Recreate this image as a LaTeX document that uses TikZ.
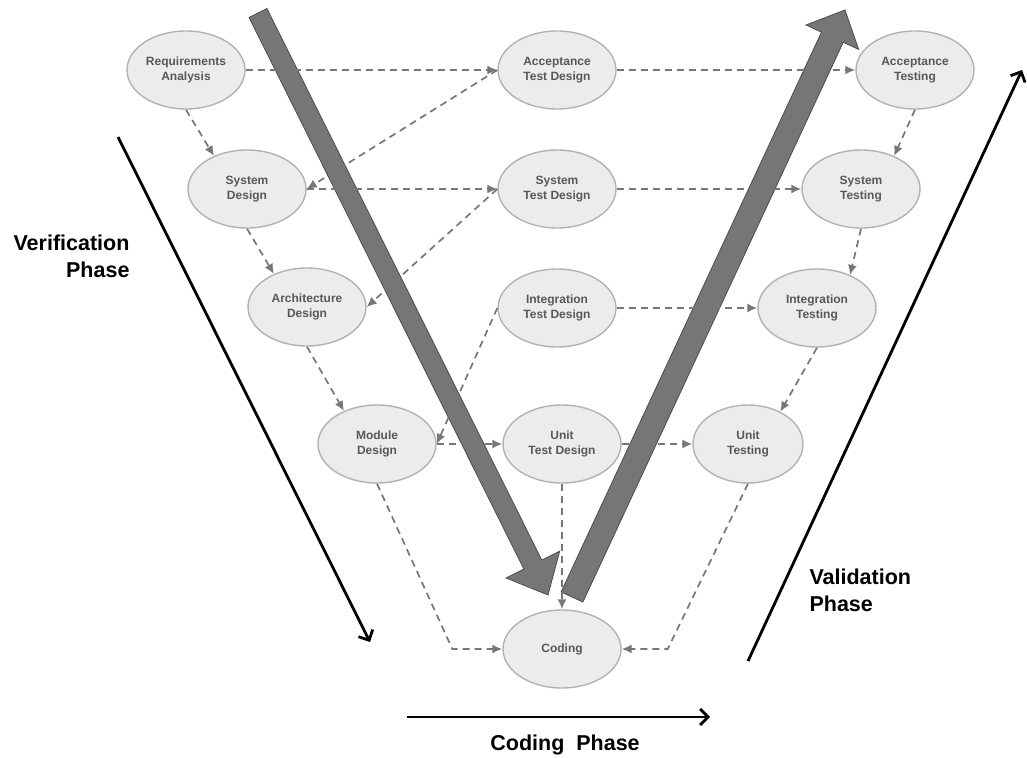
\documentclass[tikz,border=0pt]{standalone}
\usepackage{fontspec}
\setmainfont{Liberation Sans}
\usetikzlibrary{shapes.geometric,arrows.meta,calc}
\definecolor{ellfill}{HTML}{ECECEC}
\definecolor{ellborder}{HTML}{B2B2B2}
\definecolor{ndtext}{HTML}{585858}
\definecolor{linkgray}{HTML}{777777}
\definecolor{bigfill}{HTML}{767676}
\definecolor{bigdraw}{HTML}{4C4C4C}
\begin{document}
\begin{tikzpicture}[x=1pt,y=-1pt,
  phase/.style={ellipse, draw=ellborder, fill=ellfill, line width=1.4pt,
    minimum width=118pt, minimum height=78pt, inner sep=0pt, align=center,
    font=\fontsize{12}{15}\selectfont\bfseries, text=ndtext},
  link/.style={draw=linkgray, line width=1.7pt, dash pattern=on 7pt off 5pt,
    -{Latex[length=10pt,width=9pt]}},
  phasearrow/.style={draw=black, line width=2.8pt,
    -{Straight Barb[length=8pt,width=16pt]}},
  bigarrow/.style={fill=bigfill, draw=bigdraw, line width=0.8pt, line join=miter},
  phaselabel/.style={font=\fontsize{21.5}{27}\selectfont\bfseries, text=black}
]
\useasboundingbox (0,0) rectangle (1027,757);

% big gray arrows
\coordinate (dA) at (258,13);
\coordinate (dB) at (548,595);
\coordinate (dH) at ($(dB)!34pt!(dA)$);
\path[bigarrow] ($(dA)!10pt!90:(dB)$) -- ($(dH)!10pt!90:(dB)$) -- ($(dH)!30pt!90:(dB)$)
  -- (dB) -- ($(dH)!30pt!-90:(dB)$) -- ($(dH)!10pt!-90:(dB)$) -- ($(dA)!10pt!-90:(dB)$) -- cycle;

\coordinate (uA) at (572,597);
\coordinate (uB) at (845,10);
\coordinate (uH) at ($(uB)!30pt!(uA)$);
\path[bigarrow] ($(uA)!12pt!90:(uB)$) -- ($(uH)!12pt!90:(uB)$) -- ($(uH)!29pt!90:(uB)$)
  -- (uB) -- ($(uH)!29pt!-90:(uB)$) -- ($(uH)!12pt!-90:(uB)$) -- ($(uA)!12pt!-90:(uB)$) -- cycle;

% nodes
\node[phase] (req) at (186,70) {Requirements\\Analysis};
\node[phase] (atd) at (557,70) {Acceptance\\Test Design};
\node[phase] (at) at (915,70) {Acceptance\\Testing};
\node[phase] (sysd) at (247,189) {System\\Design};
\node[phase] (std) at (557,189) {System\\Test Design};
\node[phase] (st) at (861,189) {System\\Testing};
\node[phase] (archd) at (307,307) {Architecture\\Design};
\node[phase] (itd) at (557,308) {Integration\\Test Design};
\node[phase] (it) at (817,308) {Integration\\Testing};
\node[phase] (modd) at (377,444) {Module\\Design};
\node[phase] (utd) at (562,444) {Unit\\Test Design};
\node[phase, minimum width=110pt] (ut) at (748,444) {Unit\\Testing};
\node[phase] (coding) at (562,649) {Coding};

% dashed connectors
\draw[link] (req.east) -- (atd.west);
\draw[link] (atd.west) -- (sysd.east);
\draw[link] (req.south) -- (sysd.135);
\draw[link] (sysd.east) -- (std.west);
\draw[link] (std.west) -- (archd.east);
\draw[link] (sysd.south) -- (archd.135);
\draw[link] (archd.south) -- (modd.135);
\draw[link] (itd.west) -- (modd.east);
\draw[link] (modd.east) -- (utd.west);
\draw[link] (utd.east) -- (ut.west);
\draw[link] (utd.south) -- (coding.north);
\coordinate (cl) at ($(coding.west)+(-50,0)$);
\coordinate (cr) at ($(coding.east)+(46,0)$);
\draw[link] (modd.south) -- (cl) -- (coding.west);
\draw[link] (ut.south) -- (cr) -- (coding.east);
\draw[link] (atd.east) -- (at.west);
\draw[link] (at.south) -- (st.45);
\draw[link] (std.east) -- (st.west);
\draw[link] (st.south) -- (it.45);
\draw[link] (itd.east) -- (it.west);
\draw[link] (it.south) -- (ut.45);

% phase arrows
\coordinate (v1) at (118,137);
\coordinate (v2) at (370,642);
\coordinate (w1) at (748,661);
\coordinate (w2) at (1022,70);
\coordinate (k1) at (407,717);
\coordinate (k2) at (710,717);
\draw[phasearrow] (v1) -- (v2);
\draw[phasearrow] (w1) -- (w2);
\draw[phasearrow] (k1) -- (k2);

% labels
\node[phaselabel, align=right, anchor=east] (verif) at (133,256) {Verification\\Phase};
\node[phaselabel, align=left, anchor=west] (valid) at (806,590) {Validation\\Phase};
\node[phaselabel] (codph) at (565,745) {Coding\ \ Phase};
\end{tikzpicture}
\end{document}
